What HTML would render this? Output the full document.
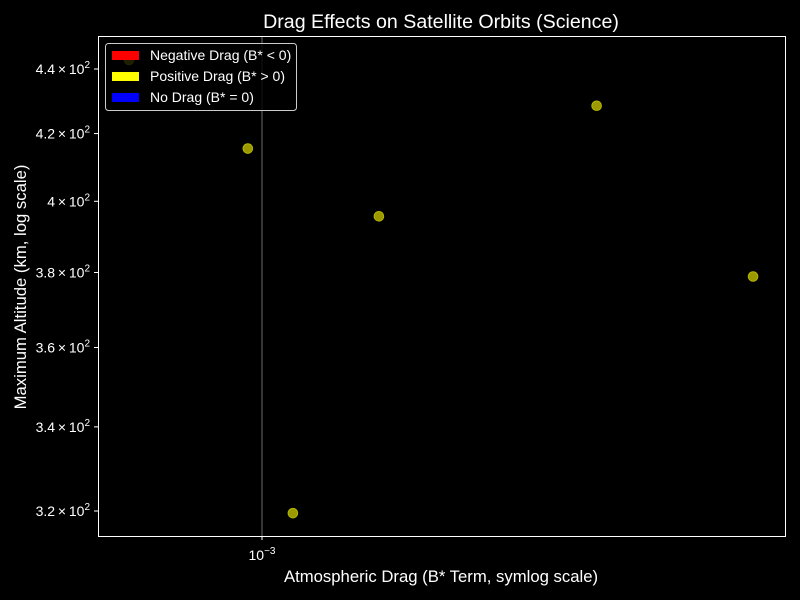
<!DOCTYPE html>
<html><head><meta charset="utf-8"><style>
body{margin:0;background:#000;}
svg{display:block;font-family:"Liberation Sans",sans-serif;}
</style></head><body>
<svg id="chart" width="800" height="600">
<rect width="800" height="600" fill="#000"/>
<text x="441" y="28" fill="#fff" font-size="19.6" text-anchor="middle">Drag Effects on Satellite Orbits (Science)</text>
<line x1="262" y1="36" x2="262" y2="536" stroke="#888" stroke-width="0.8"/>
<g id="points"></g>
<g id="yticks"></g>
<g id="xticks"></g>
<rect x="98.5" y="36.5" width="687" height="500" fill="none" stroke="#fff" stroke-width="1"/>
<text x="441" y="582" fill="#fff" font-size="16.7" text-anchor="middle">Atmospheric Drag (B* Term, symlog scale)</text>
<text transform="translate(26,287) rotate(-90)" fill="#fff" font-size="16.7" text-anchor="middle">Maximum Altitude (km, log scale)</text>
<g>
<rect x="105.5" y="43.5" width="191" height="67" rx="3" fill="#000" fill-opacity="0.8" stroke="#ccc" stroke-width="1"/>
<rect x="112" y="51" width="27" height="9" fill="#f00"/>
<text x="150" y="60" fill="#fff" font-size="14">Negative Drag (B* &lt; 0)</text>
<rect x="112" y="72" width="27" height="9" fill="#ff0"/>
<text x="150" y="81" fill="#fff" font-size="14">Positive Drag (B* &gt; 0)</text>
<rect x="112" y="93" width="27" height="9" fill="#00f"/>
<text x="150" y="102" fill="#fff" font-size="14">No Drag (B* = 0)</text>
</g>
</svg>
<script>
const bstarValues=[0.000682,0.00096,0.001093,0.00140,0.00262,0.00411];
const altitudeValues=[442.9,415.5,319.5,395.7,428.5,378.9];
const yTickValues=[320,340,360,380,400,420,440];
const yTickLabels=["3.2","3.4","3.6","3.8","4","4.2","4.4"];
const xTickValues=[0.001];
const NS="http://www.w3.org/2000/svg";
function xScale(v){return 262+800*Math.log10(v/0.001);}
function yScale(v){return 69+1388*(Math.log(440)-Math.log(v));}
const pts=document.getElementById('points');
bstarValues.forEach((b,i)=>{
 const c=document.createElementNS(NS,'circle');
 c.setAttribute('cx',xScale(b));c.setAttribute('cy',yScale(altitudeValues[i]));
 c.setAttribute('r',4.8);c.setAttribute('fill','#9a9a00');c.setAttribute('stroke','#b5b500');c.setAttribute('stroke-width','1');
 
 
 pts.appendChild(c);
});
const yt=document.getElementById('yticks');
yTickValues.forEach((v,i)=>{
 const y=yScale(v);
 const l=document.createElementNS(NS,'line');
 l.setAttribute('x1',94);l.setAttribute('x2',98);l.setAttribute('y1',y);l.setAttribute('y2',y);l.setAttribute('stroke','#fff');
 
 
 yt.appendChild(l);
 const t=document.createElementNS(NS,'text');
 t.setAttribute('x',90);t.setAttribute('y',y+5);t.setAttribute('fill','#fff');t.setAttribute('font-size','14');t.setAttribute('text-anchor','end');
 t.innerHTML=yTickLabels[i]+'\u2009\u00d7\u200910<tspan dy="-6" font-size="10">2</tspan>';
 
 
 yt.appendChild(t);
});
const xt=document.getElementById('xticks');
xTickValues.forEach(v=>{
 const x=xScale(v);
 const l=document.createElementNS(NS,'line');
 l.setAttribute('x1',x);l.setAttribute('x2',x);l.setAttribute('y1',536);l.setAttribute('y2',540);l.setAttribute('stroke','#fff');
 
 
 xt.appendChild(l);
 const t=document.createElementNS(NS,'text');
 t.setAttribute('x',x);t.setAttribute('y',560);t.setAttribute('fill','#fff');t.setAttribute('font-size','14');t.setAttribute('text-anchor','middle');
 t.innerHTML='10<tspan dy="-6" font-size="10">\u22123</tspan>';
 
 
 xt.appendChild(t);
});
</script>
</body></html>
